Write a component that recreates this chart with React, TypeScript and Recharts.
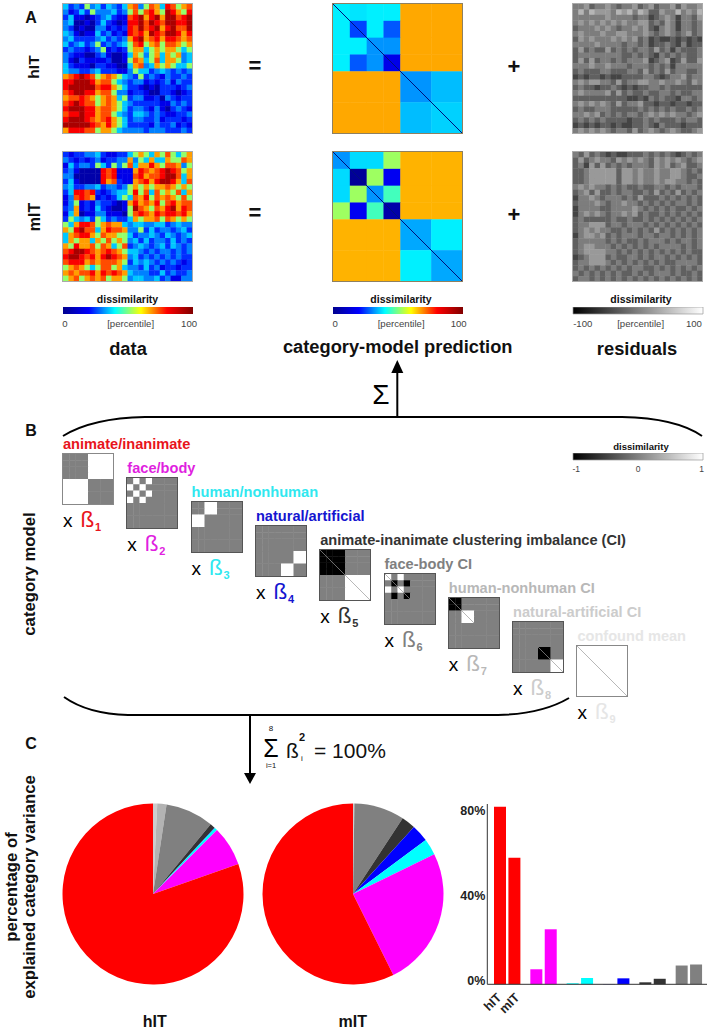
// App.tsx - category-model figure: dissimilarity matrices, model predictors, variance pies and bars
import React from 'react';
import {
  ScatterChart, Scatter, XAxis, YAxis,
  BarChart, Bar, Cell, PieChart, Pie,
} from 'recharts';

// coarse readings of the four measured matrices, one digit per cell (0 low .. 9 high)
const hitData = [
  '423253424324673576487567', '312425333423575786598658', '241101234211789689699789',
  '340010242101889798799889', '320100331212879789689779', '431011423121878698799868',
  '342222342323689678688767', '423423523234578567577656', '232212351212566456566545',
  '321100231001465356465634', '310211112001576457466534', '421110221100467346565445',
  '433223422211354423432323', '678987567654325232132232', '889998677543233121231322',
  '899999788654221010222123', '789988677533122100221012', '677876567645233112032122',
  '789877567654322222113232', '899988677654233213102321', '788988677543244323211223',
  '899987678654233223122212', '999998768654222213223121', '688877566543333233322232',
];
const mitData = [
  '212233421122456546575456', '321212312233635464465576', '142332542535746686577635',
  '231000087811168767898756', '330000087811178677899746', '241000086721167868998647',
  '342233423323565656676565', '248878212344585747565746', '137876121245476857676575',
  '135121322101686768578677', '236121421001597657689687', '146011331110578768788786',
  '254342542322465667576565', '546887567664344334423433', '658977468776335242332342',
  '467886576655423343243234', '465664657565342423324232', '658667576457234323424323',
  '789987678765443232332323', '899878689876342323232322', '788867677765243432323212',
  '567654577564332423122122', '676778687876433322423223', '567567675665344334231133',
];
const hitResiduals = [
  '445344543445345344535445', '464655546564653354464546', '444444544443442345424435',
  '454545454544553435424434', '344454543445453245424434', '454445445544454345434534',
  '354544454545342322323232', '444454444344342334324233', '353433534343443534243334',
  '344444444334343243434334', '353534434344452345235335', '444544544434443434244444',
  '343334433344353435344334', '232332322333344323445344', '454554435344554454454354',
  '343323343232334434333333', '454444535343343344343344', '333333333322324343324434',
  '454545435344533233233233', '343344433333434343433434', '445453434344345454544345',
  '343434333323343433343443', '232323323223343243332333', '454545434435345434543345',
];
const mitResiduals = [
  '435343232233343434323434', '353454435454543545454345', '342535343434443545345334',
  '334555553554544544554343', '334555553554544544554334', '334555553554544545544343',
  '454544343433433443434443', '345353343443343534353434', '244543444343533343434343',
  '344454344544343434344343', '244443344445434343433434', '245454344545343343434343',
  '343333343343343434343434', '344555344344434343434343', '345454433434343534343434',
  '245545343444344344343434', '344444343433434443434434', '345544434343434344443434',
  '345555443434343434343433', '234555343344343443434343', '344555434343434343344443',
  '343434343434433434343434', '434343434334343444343343', '344343434343434343434343',
];
// percentile each digit stands for
const digitPercentiles = [3, 10, 17, 25, 32, 52, 72, 80, 88, 96];

// fitted category-model predictions, percentile per block
const blockEdges = [0, 12, 24, 36, 48, 70, 92];
const hitModel = [
  [36, 35, 36, 36, 71, 71], [36, 19, 36, 21, 71, 71], [36, 36, 27, 27, 71, 71],
  [36, 21, 27, 10, 71, 71], [71, 71, 71, 71, 27, 31], [71, 71, 71, 71, 31, 33],
];
const mitModel = [
  [27, 34, 34, 53, 70, 70], [34, 1, 53, 11, 70, 70], [34, 53, 27, 44, 70, 70],
  [53, 11, 44, 3, 70, 70], [70, 70, 70, 70, 29, 36], [70, 70, 70, 70, 36, 29],
];

// predictor matrices, -1 / 0 / 1 per block
const predictorEdges = [0, 1, 2, 3, 4, 6, 8];
const animateInanimate = [[0,0,0,0,1,1],[0,0,0,0,1,1],[0,0,0,0,1,1],[0,0,0,0,1,1],[1,1,1,1,0,0],[1,1,1,1,0,0]];
const faceBody = [[0,1,0,1,0,0],[1,0,1,0,0,0],[0,1,0,1,0,0],[1,0,1,0,0,0],[0,0,0,0,0,0],[0,0,0,0,0,0]];
const humanNonhuman = [[0,0,1,1,0,0],[0,0,1,1,0,0],[1,1,0,0,0,0],[1,1,0,0,0,0],[0,0,0,0,0,0],[0,0,0,0,0,0]];
const naturalArtificial = [[0,0,0,0,0,0],[0,0,0,0,0,0],[0,0,0,0,0,0],[0,0,0,0,0,0],[0,0,0,0,0,1],[0,0,0,0,1,0]];
const animateCI = [[-1,-1,-1,-1,0,0],[-1,-1,-1,-1,0,0],[-1,-1,-1,-1,0,0],[-1,-1,-1,-1,0,0],[0,0,0,0,1,1],[0,0,0,0,1,1]];
const faceBodyCI = [[1,0,1,0,0,0],[0,-1,0,-1,0,0],[1,0,1,0,0,0],[0,-1,0,-1,0,0],[0,0,0,0,0,0],[0,0,0,0,0,0]];
const humanCI = [[-1,-1,0,0,0,0],[-1,-1,0,0,0,0],[0,0,1,1,0,0],[0,0,1,1,0,0],[0,0,0,0,0,0],[0,0,0,0,0,0]];
const naturalCI = [[0,0,0,0,0,0],[0,0,0,0,0,0],[0,0,0,0,0,0],[0,0,0,0,0,0],[0,0,0,0,-1,0],[0,0,0,0,0,1]];
const confoundMean = [[1,1,1,1,1,1],[1,1,1,1,1,1],[1,1,1,1,1,1],[1,1,1,1,1,1],[1,1,1,1,1,1],[1,1,1,1,1,1]];

const predictorNames = [
  'animate/inanimate', 'face/body', 'human/nonhuman', 'natural/artificial',
  'animate-inanimate clustering imbalance (CI)', 'face-body CI', 'human-nonhuman CI',
  'natural-artificial CI', 'confound mean',
];
const predictorCells = [animateInanimate, faceBody, humanNonhuman, naturalArtificial, animateCI, faceBodyCI, humanCI, naturalCI, confoundMean];
const predictorColors = ['#e8141c', '#e01fe0', '#30e8f0', '#1515d0', '#333333', '#808080', '#b8b8b8', '#cccccc', '#e6e6e6'];
const predictorDiagonals = [null, null, null, null, [0, 8], [0, 4], [0, 4], [4, 8], [0, 8]];

// explained category variance [%]
const sliceNames = ['natural-artificial CI', 'human-nonhuman CI', 'face-body CI', 'animate-inanimate CI', 'natural/artificial', 'human/nonhuman', 'face/body', 'animate/inanimate'];
const sliceColors = ['#cccccc', '#b3b3b3', '#808080', '#333333', '#0000ff', '#00ffff', '#ff00ff', '#ff0000'];
const hitSlices = [0.75, 1.65, 8.6, 0.9, 0.1, 0.5, 7.1, 80.4];
const mitSlices = [0.2, 0.05, 9.0, 2.5, 3.1, 2.9, 24.9, 57.35];

const barCategories = ['animate/inanimate', 'face/body', 'human/nonhuman', 'natural/artificial', 'animate-inanimate CI', 'face-body CI'];
const barColors = ['#ff0000', '#ff00ff', '#00ffff', '#0000ff', '#333333', '#808080'];
const hitBars = [80.4, 6.8, 0.45, 0.1, 0.9, 8.5];
const mitBars = [57.3, 24.9, 2.85, 2.7, 2.5, 9.0];
const seriesNames = ['hIT', 'mIT'];

const FONT = '"Liberation Sans", Arial, sans-serif';

const jetStops: [number, number[]][] = [
  [0, [0, 0, 143]], [0.125, [0, 0, 255]], [0.375, [0, 255, 255]],
  [0.625, [255, 255, 0]], [0.875, [255, 0, 0]], [1, [128, 0, 0]],
];
function jet(pct: number) {
  const t = Math.min(1, Math.max(0, pct / 100));
  for (let i = 1; i < jetStops.length; i++) {
    const [t1, c1] = jetStops[i];
    const [t0, c0] = jetStops[i - 1];
    if (t <= t1) {
      const f = (t - t0) / (t1 - t0);
      const c = c0.map((v, k) => Math.round(v + (c1[k] - v) * f));
      return `rgb(${c[0]},${c[1]},${c[2]})`;
    }
  }
  return 'rgb(128,0,0)';
}
const grey = (v: number) => {
  const g = Math.round(v * 255);
  return `rgb(${g},${g},${g})`;
};
const digitsToJet = (d: number) => jet(digitPercentiles[d]);
const digitsToGrey = (d: number) => grey((d + 0.4) / 9);
const predictorColor = (v: number) => grey((v + 1) / 2);

type Pt = { x: number; y: number; w: number; h: number; v: number };

function blocksToPoints(cells: number[][], edges: number[]): Pt[] {
  const pts: Pt[] = [];
  cells.forEach((row, r) => row.forEach((v, c) => pts.push({
    x: (edges[c] + edges[c + 1]) / 2,
    y: (edges[r] + edges[r + 1]) / 2,
    w: edges[c + 1] - edges[c],
    h: edges[r + 1] - edges[r],
    v,
  })));
  return pts;
}
function digitsToPoints(rows: string[], domain: number): Pt[] {
  const step = domain / rows.length;
  const pts: Pt[] = [];
  rows.forEach((row, r) => row.split('').forEach((ch, c) => pts.push({
    x: (c + 0.5) * step, y: (r + 0.5) * step, w: step, h: step, v: Number(ch),
  })));
  return pts;
}

function Matrix({ left, top, size, domain, points, color, diagonal, diagColor, diagWidth, border }: {
  left: number; top: number; size: number; domain: number; points: Pt[];
  color: (v: number) => string; diagonal?: number[] | null; diagColor?: string; diagWidth?: number; border?: string;
}) {
  const k = size / domain;
  return (
    <div style={{ position: 'absolute', left, top, width: size, height: size, boxSizing: 'content-box', outline: border ? `1px solid ${border}` : undefined }}>
      <ScatterChart width={size} height={size} margin={{ top: 0, right: 0, bottom: 0, left: 0 }}>
        <XAxis type="number" dataKey="x" domain={[0, domain]} hide />
        <YAxis type="number" dataKey="y" domain={[0, domain]} reversed hide />
        <Scatter
          data={points}
          isAnimationActive={false}
          shape={(p: any) => (
            <rect
              x={p.cx - (p.payload.w * k) / 2}
              y={p.cy - (p.payload.h * k) / 2}
              width={p.payload.w * k + 0.4}
              height={p.payload.h * k + 0.4}
              fill={color(p.payload.v)}
            />
          )}
        />
        {diagonal ? (
          <Scatter
            data={[{ x: diagonal[0], y: diagonal[0] }, { x: diagonal[1], y: diagonal[1] }]}
            line={{ stroke: diagColor, strokeWidth: diagWidth }}
            shape={() => null}
            isAnimationActive={false}
          />
        ) : null}
      </ScatterChart>
    </div>
  );
}

function ColorBar({ id, left, top, width, stops, ticks, labels, stroke, fontSize }: {
  id: string; left: number; top: number; width: number; stops: string[];
  ticks: number[]; labels: string[]; stroke?: string; fontSize: number;
}) {
  const side = 16;
  return (
    <div style={{ position: 'absolute', left: left - side, top }}>
      <BarChart
        width={width + 2 * side}
        height={26}
        layout="vertical"
        data={[{ name: 'range', value: 100 }]}
        margin={{ top: 0, right: side, bottom: 0, left: side }}
        barCategoryGap={0}
      >
        <defs>
          <linearGradient id={id} x1="0" y1="0" x2="1" y2="0">
            {stops.map((c, i) => <stop key={i} offset={i / (stops.length - 1)} stopColor={c} />)}
          </linearGradient>
        </defs>
        <XAxis
          type="number"
          domain={[0, 100]}
          ticks={ticks}
          interval={0}
          height={19}
          axisLine={false}
          tickLine={false}
          tickMargin={0}
          tick={{ fontSize, fill: '#444', fontFamily: FONT }}
          tickFormatter={(v: number) => labels[ticks.indexOf(v)]}
        />
        <YAxis type="category" dataKey="name" hide />
        <Bar dataKey="value" fill={`url(#${id})`} stroke={stroke} strokeWidth={stroke ? 0.7 : 0} isAnimationActive={false} />
      </BarChart>
    </div>
  );
}

function VariancePie({ values, cx }: { values: number[]; cx: number }) {
  const data = values.map((value, i) => ({ name: sliceNames[i], value }));
  return (
    <div style={{ position: 'absolute', left: cx - 100, top: 794 }}>
      <PieChart width={200} height={200} margin={{ top: 0, right: 0, bottom: 0, left: 0 }}>
        <Pie data={data} dataKey="value" cx={100} cy={100} outerRadius={90.5} startAngle={90} endAngle={-270} stroke="none" isAnimationActive={false}>
          {data.map((d, i) => <Cell key={d.name} fill={sliceColors[i]} />)}
        </Pie>
      </PieChart>
    </div>
  );
}

function YTick({ x, y, payload }: any) {
  const nudge: Record<number, number> = { 80: 3, 40: 0.5, 0: -3 };
  return (
    <text x={x + 6} y={y + nudge[payload.value]} textAnchor="end" dominantBaseline="central" fontFamily={FONT} fontWeight="bold" fontSize={12.5} fill="#222">
      {payload.value}%
    </text>
  );
}

function XTick({ x, y, index }: any) {
  if (index !== 0) return null;
  return (
    <g fontFamily={FONT} fontWeight="bold" fontSize={12.5} fill="#222">
      <text textAnchor="end" transform={`translate(${x - 5},${y + 6}) rotate(-45)`}>{seriesNames[0]}</text>
      <text textAnchor="end" transform={`translate(${x + 13},${y + 6}) rotate(-45)`}>{seriesNames[1]}</text>
    </g>
  );
}

function VarianceBars() {
  const data = barCategories.map((name, i) => ({ name, hIT: hitBars[i], mIT: mitBars[i] }));
  return (
    <div style={{ position: 'absolute', left: 440, top: 790 }}>
      <BarChart width={268} height={240} data={data} margin={{ top: 14, right: 1, bottom: 0, left: 0.3 }} barSize={12} barGap={2.4}>
        <XAxis dataKey="name" height={45.7} interval={0} padding={{ left: 1.7, right: 0 }} tickLine={false} axisLine={{ stroke: '#333' }} tick={<XTick />} />
        <YAxis type="number" width={47} domain={[0, 81.6]} ticks={[0, 40, 80]} interval={0} tickLine={false} axisLine={{ stroke: '#333' }} tick={<YTick />} />
        <Bar dataKey="hIT" isAnimationActive={false}>
          {data.map((d, i) => <Cell key={d.name} fill={barColors[i]} />)}
        </Bar>
        <Bar dataKey="mIT" isAnimationActive={false}>
          {data.map((d, i) => <Cell key={d.name} fill={barColors[i]} />)}
        </Bar>
      </BarChart>
    </div>
  );
}

function T({ x, y, size = 14, bold = true, color = '#111', anchor = 'start', rotate, children }: any) {
  return (
    <text
      x={x}
      y={y}
      fontSize={size}
      fontWeight={bold ? 'bold' : 'normal'}
      fill={color}
      textAnchor={anchor}
      dominantBaseline="central"
      fontFamily={FONT}
      transform={rotate ? `rotate(${rotate} ${x} ${y})` : undefined}
    >
      {children}
    </text>
  );
}

const jetBar = ['#00008f', '#0000ff', '#00ffff', '#ffff00', '#ff0000', '#800000'];
const greyBar = ['#000000', '#ffffff'];

export default function App() {
  const rows = [
    { top: 3.5, data: hitData, model: hitModel, residuals: hitResiduals },
    { top: 151.5, data: mitData, model: mitModel, residuals: mitResiduals },
  ];
  return (
    <div style={{ position: 'absolute', left: 0, top: 0, width: 708, height: 1030, background: '#fff', overflow: 'hidden' }}>
      {rows.map((r) => (
        <React.Fragment key={r.top}>
          <Matrix left={63} top={r.top} size={129} domain={24} points={digitsToPoints(r.data, 24)} color={digitsToJet} border="#aaa" />
          <Matrix left={333} top={r.top} size={129} domain={92} points={blocksToPoints(r.model, blockEdges)} color={jet} diagonal={[0, 92]} diagColor="#00107a" diagWidth={1} border="#8f8060" />
          <Matrix left={572.5} top={r.top} size={129.5} domain={24} points={digitsToPoints(r.residuals, 24)} color={digitsToGrey} border="#aaa" />
        </React.Fragment>
      ))}

      <ColorBar id="jet1" left={62.5} top={306.7} width={130} stops={jetBar} ticks={[1.5, 52, 97]} labels={['0', '[percentile]', '100']} fontSize={9.6} />
      <ColorBar id="jet2" left={332.5} top={306.7} width={130} stops={jetBar} ticks={[1.7, 52.4, 96.7]} labels={['0', '[percentile]', '100']} fontSize={9.6} />
      <ColorBar id="grey1" left={572.5} top={306.7} width={130} stops={greyBar} ticks={[7.5, 52, 93]} labels={['-100', '[percentile]', '100']} stroke="#999" fontSize={9.6} />
      <ColorBar id="grey2" left={572.5} top={453.3} width={130} stops={greyBar} ticks={[2.5, 50, 99]} labels={['-1', '0', '1']} stroke="#999" fontSize={8.5} />

      {predictorCells.map((cells, i) => (
        <Matrix
          key={predictorNames[i]}
          left={63 + 64.3 * i}
          top={454.3 + 24 * i}
          size={50}
          domain={8}
          points={blocksToPoints(cells, predictorEdges)}
          color={predictorColor}
          diagonal={predictorDiagonals[i]}
          diagColor="#999"
          diagWidth={0.7}
          border={i === 0 || i === 8 ? '#888' : '#555'}
        />
      ))}

      <VariancePie values={hitSlices} cx={153.3} />
      <VariancePie values={mitSlices} cx={352.7} />
      <VarianceBars />

      <svg width={708} height={1030} style={{ position: 'absolute', left: 0, top: 0, pointerEvents: 'none' }}>
        <T x={31} y={17} size={16} anchor="middle">A</T>
        <T x={31} y={430} size={16} anchor="middle">B</T>
        <T x={31} y={743} size={16} anchor="middle">C</T>
        <T x={33} y={67} size={15.5} anchor="middle" rotate={-90}>hIT</T>
        <T x={34} y={217} size={16} anchor="middle" rotate={-90}>mIT</T>
        <T x={29} y={574} size={16.7} anchor="middle" rotate={-90}>category model</T>
        <T x={11} y={887} size={16.7} anchor="middle" rotate={-90}>percentage of</T>
        <T x={29} y={887} size={16.7} anchor="middle" rotate={-90}>explained category variance</T>

        <T x={255} y={65} size={22} anchor="middle">=</T>
        <T x={255} y={212} size={22} anchor="middle">=</T>
        <T x={514} y={66} size={22} anchor="middle">+</T>
        <T x={514} y={214} size={22} anchor="middle">+</T>

        <T x={127.5} y={299} size={10.5} anchor="middle">dissimilarity</T>
        <T x={401} y={299} size={10.5} anchor="middle">dissimilarity</T>
        <T x={641} y={299} size={10.5} anchor="middle">dissimilarity</T>
        <T x={641} y={446} size={9.5} anchor="middle">dissimilarity</T>

        <T x={128} y={348} size={18.3} anchor="middle">data</T>
        <T x={397.7} y={346} size={18.3} anchor="middle">category-model prediction</T>
        <T x={637} y={348} size={18.3} anchor="middle">residuals</T>

        {/* top brace and arrow */}
        <path d="M63,436 Q92,418 145,417 L622,417 Q676,418 702,436" fill="none" stroke="#000" strokeWidth={2} />
        <line x1={397.3} y1={417} x2={397.3} y2={372} stroke="#000" strokeWidth={2} />
        <polygon points="397.3,360 391.3,373 403.3,373" fill="#000" />
        <T x={381} y={394} size={28} bold={false} anchor="middle" color="#000">Σ</T>

        {/* bottom brace and arrow */}
        <path d="M64,697 Q88,714 128,715 L498,715 Q542,714 569,698" fill="none" stroke="#000" strokeWidth={2} />
        <line x1={250} y1={715} x2={250} y2={775} stroke="#000" strokeWidth={2} />
        <polygon points="250,784 244,773 256,773" fill="#000" />
        <T x={271} y={748} size={25} bold={false} anchor="middle" color="#000">Σ</T>
        <T x={271} y={728} size={8} bold={false} anchor="middle">8</T>
        <T x={271} y={765} size={7.5} bold={false} anchor="middle">i=1</T>
        <T x={286} y={750} size={21} bold={false}>ß</T>
        <T x={302} y={737} size={11} anchor="middle">2</T>
        <T x={302} y={758} size={8} bold={false} anchor="middle">i</T>
        <T x={314} y={750} size={21} bold={false}>= 100%</T>

        {predictorNames.map((name, i) => {
          const left = 63 + 64.3 * i;
          const top = 454.3 + 24 * i;
          const base = top + 50;
          return (
            <g key={name}>
              <T x={left} y={top - 10.5} size={14.6} color={predictorColors[i]}>{name}</T>
              <T x={left} y={base + 16.5} size={19} bold={false} color="#000">x</T>
              <T x={left + 17.5} y={base + 15} size={22.5} bold={false} color={predictorColors[i]}>ß</T>
              <T x={left + 32} y={base + 22.5} size={11} color={predictorColors[i]}>{i + 1}</T>
            </g>
          );
        })}

        <T x={154.7} y={1021.7} size={16} anchor="middle">hIT</T>
        <T x={352.7} y={1021.7} size={16} anchor="middle">mIT</T>
      </svg>
    </div>
  );
}
